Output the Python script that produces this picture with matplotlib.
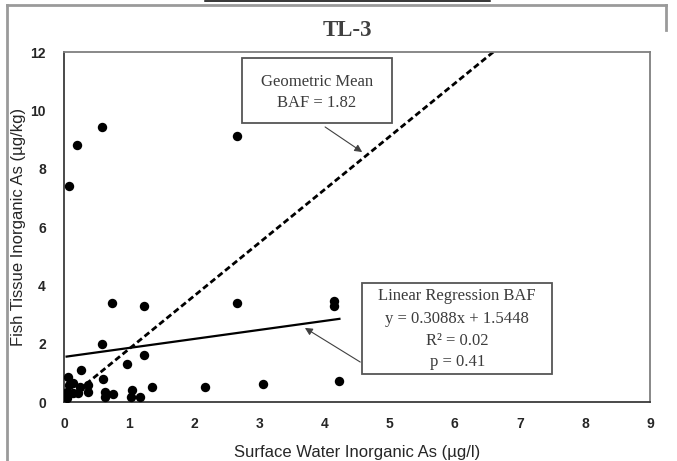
import matplotlib
matplotlib.use("Agg")
import matplotlib.pyplot as plt
from matplotlib import font_manager
from matplotlib.patches import Rectangle
from matplotlib.lines import Line2D
import numpy as np

# ---------------- data ----------------
x_vals = [0.08, 0.20, 0.58, 2.65,
          0.74, 1.23, 2.65, 4.15, 4.15,
          0.58, 1.23, 0.97, 0.26,
          0.06, 0.60,
          1.35, 2.17, 3.06, 4.23,
          0.08, 0.14, 0.25, 0.37, 0.37, 0.05, 0.14, 0.22, 0.05,
          0.63, 0.75, 0.63, 1.05, 1.03, 1.17]
y_vals = [7.41, 8.82, 9.43, 9.12,
          3.40, 3.29, 3.40, 3.30, 3.45,
          2.00, 1.60, 1.30, 1.10,
          0.85, 0.79,
          0.50, 0.50, 0.61, 0.72,
          0.58, 0.65, 0.52, 0.58, 0.34, 0.34, 0.31, 0.31, 0.14,
          0.35, 0.28, 0.17, 0.41, 0.17, 0.17]
gm_baf = 1.82
reg_slope = 0.3088
reg_intercept = 1.5448
title = "TL-3"
xlabel = "Surface Water Inorganic As (µg/l)"
ylabel = "Fish Tissue Inorganic As (µg/kg)"
x_ticks = list(range(0, 10))
y_ticks = list(range(0, 13, 2))
box1_lines = ["Geometric Mean", "BAF = 1.82"]
box2_lines = ["Linear Regression BAF", "y = 0.3088x + 1.5448", "R² = 0.02", "p = 0.41"]

# ---------------- fonts ----------------
avail = {f.name for f in font_manager.fontManager.ttflist}
sans = "Liberation Sans Narrow" if "Liberation Sans Narrow" in avail else "Liberation Sans"
serif = "Liberation Serif"

W, H = 677, 461
fig = plt.figure(figsize=(W / 100, H / 100), dpi=100)

def fx(px):
    return px / W

def fy(py):
    return 1 - py / H

# outer frame (cut screenshot)
frame_col = "#9a9a9a"
fig.add_artist(Line2D([fx(7), fx(7)], [fy(5), fy(461)], color=frame_col, lw=2))
fig.add_artist(Line2D([fx(7), fx(666)], [fy(5), fy(5)], color=frame_col, lw=2))
fig.add_artist(Line2D([fx(666), fx(666)], [fy(5), fy(30)], color=frame_col, lw=2))
fig.add_artist(Line2D([fx(205), fx(490)], [fy(1.2), fy(1.2)], color="black", lw=1.1))

L, R, T, B = 64, 650, 52, 402
ax = fig.add_axes([fx(L), fy(B), (R - L) / W, (B - T) / H])
ax.set_xlim(0, 9)
ax.set_ylim(0, 12)
ax.set_xticks(x_ticks)
ax.set_yticks(y_ticks)
ax.tick_params(length=0, labelsize=10, colors="#262626")
ax.tick_params(axis="x", pad=11)
ax.tick_params(axis="y", pad=13)
for lab in ax.get_xticklabels() + ax.get_yticklabels():
    lab.set_fontfamily(sans)
    lab.set_fontweight("bold")
for s in ["top", "right"]:
    ax.spines[s].set_color("#7f7f7f")
    ax.spines[s].set_linewidth(1.3)
for s in ["left", "bottom"]:
    ax.spines[s].set_color("#3a3a3a")
    ax.spines[s].set_linewidth(1.3)

# lines
xg = np.array([0, 12 / gm_baf])
ax.plot(xg, gm_baf * xg, color="black", lw=2.0, dashes=(2.2, 1.2), zorder=2)
xr = np.array([0.04, max(x_vals)])
ax.plot(xr, reg_slope * xr + reg_intercept, color="black", lw=1.6, zorder=2)

ax.scatter(x_vals, y_vals, s=46, color="black", zorder=3, linewidths=0)

ax.set_xlabel(xlabel, fontfamily=sans, fontsize=12, color="#262626", labelpad=10)
ax.set_ylabel(ylabel, fontfamily=sans, fontsize=12, color="#262626", va="center")
ax.yaxis.set_label_coords((19 - L) / (R - L), 0.5)
fig.text(fx(347), fy(31), title, ha="center", va="center", fontfamily=serif,
         fontweight="bold", fontsize=16.5, color="#404040")

txt_col = "#3c3c3c"
# box 1
ax.add_patch(Rectangle((2.73, 9.56), 5.04 - 2.73, 11.79 - 9.56, fill=True,
                       facecolor="white", edgecolor="#555555", lw=1.3, clip_on=False, zorder=4))
for ln, yy in zip(box1_lines, [10.97, 10.25]):
    ax.text(3.885, yy, ln, ha="center", va="center", fontfamily=serif, fontsize=12,
            color=txt_col, zorder=5)
ax.annotate("", xy=(4.58, 8.57), xytext=(4.01, 9.43),
            arrowprops=dict(arrowstyle="-|>", color="#404040", lw=0.8,
                            mutation_scale=11, shrinkA=0, shrinkB=0), zorder=5)

# box 2
ax.add_patch(Rectangle((4.58, 0.96), 7.50 - 4.58, 4.08 - 0.96, fill=True,
                       facecolor="white", edgecolor="#555555", lw=1.3, clip_on=False, zorder=4))
for ln, yy in zip(box2_lines, [3.63, 2.85, 2.09, 1.37]):
    ax.text(6.04, yy, ln, ha="center", va="center", fontfamily=serif, fontsize=12,
            color=txt_col, zorder=5)
ax.annotate("", xy=(3.70, 2.54), xytext=(4.55, 1.37),
            arrowprops=dict(arrowstyle="-|>", color="#404040", lw=0.8,
                            mutation_scale=11, shrinkA=0, shrinkB=0), zorder=5)

fig.savefig("out.png", dpi=100)
